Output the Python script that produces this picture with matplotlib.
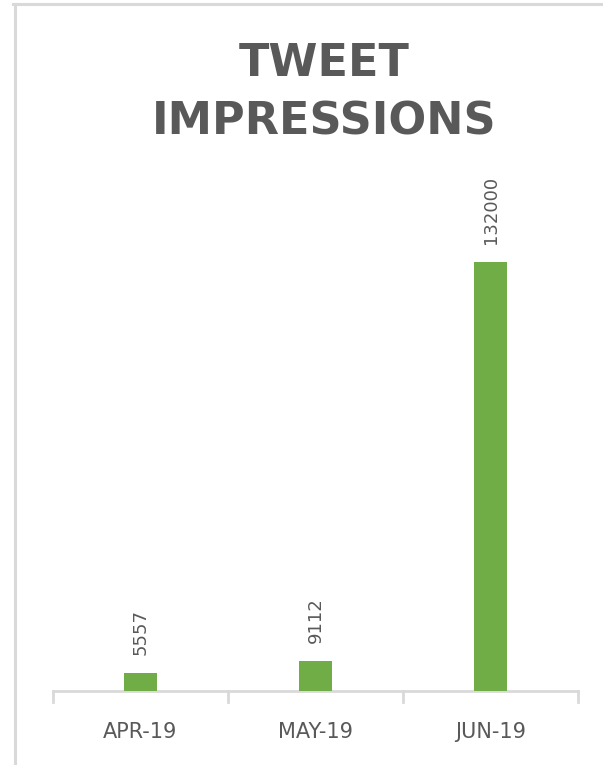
import matplotlib
matplotlib.use('Agg')

import matplotlib.pyplot as plt
from matplotlib.lines import Line2D
import numpy as np

# Dados do gráfico
meses = ['APR-19', 'MAY-19', 'JUN-19']
impressoes = [5557, 9112, 132000]

COR_BARRA = '#70AD47'
COR_TEXTO = '#595959'
COR_EIXO = '#D9D9D9'

fig = plt.figure(figsize=(6.03, 7.65), dpi=100)
ax = fig.add_axes([53 / 603, 74 / 765, 525 / 603, 455 / 765])

x = np.arange(len(meses))
bars = ax.bar(x, impressoes, width=0.19, color=COR_BARRA, zorder=3)

# Rótulos de valor, rotacionados acima das barras
for bar, valor in zip(bars, impressoes):
    ax.annotate(f'{valor}',
                xy=(bar.get_x() + bar.get_width() / 2, bar.get_height()),
                xytext=(0, 13), textcoords='offset points',
                rotation=90, ha='center', va='bottom',
                fontsize=13, color=COR_TEXTO, annotation_clip=False)

ax.set_xlim(-0.5, len(meses) - 0.5)
ax.set_ylim(0, 140000)
ax.set_yticks([])

ax.set_xticks(x)
ax.set_xticklabels(meses, fontsize=15, color=COR_TEXTO)
ax.tick_params(axis='x', length=0, pad=22)

# Marcas entre as categorias
for pos in np.arange(len(meses) + 1) - 0.5:
    ax.plot([pos, pos], [0, -0.025], color=COR_EIXO, linewidth=2,
            transform=ax.get_xaxis_transform(), clip_on=False)

for lado in ['top', 'right', 'left']:
    ax.spines[lado].set_visible(False)
ax.spines['bottom'].set_color(COR_EIXO)
ax.spines['bottom'].set_linewidth(2)

# Título
fig.text(324 / 603, 1 - 93 / 765, 'TWEET\nIMPRESSIONS', ha='center', va='center',
         fontsize=32, fontweight='bold', color=COR_TEXTO, linespacing=1.45)

# Moldura (esquerda e topo)
fig.add_artist(Line2D([14.5 / 603, 14.5 / 603], [0, 1 - 3.5 / 765],
                      color=COR_EIXO, linewidth=2.2, transform=fig.transFigure))
fig.add_artist(Line2D([13 / 603, 1], [1 - 3.5 / 765, 1 - 3.5 / 765],
                      color=COR_EIXO, linewidth=2.2, transform=fig.transFigure))

fig.savefig('out.png', dpi=100)
